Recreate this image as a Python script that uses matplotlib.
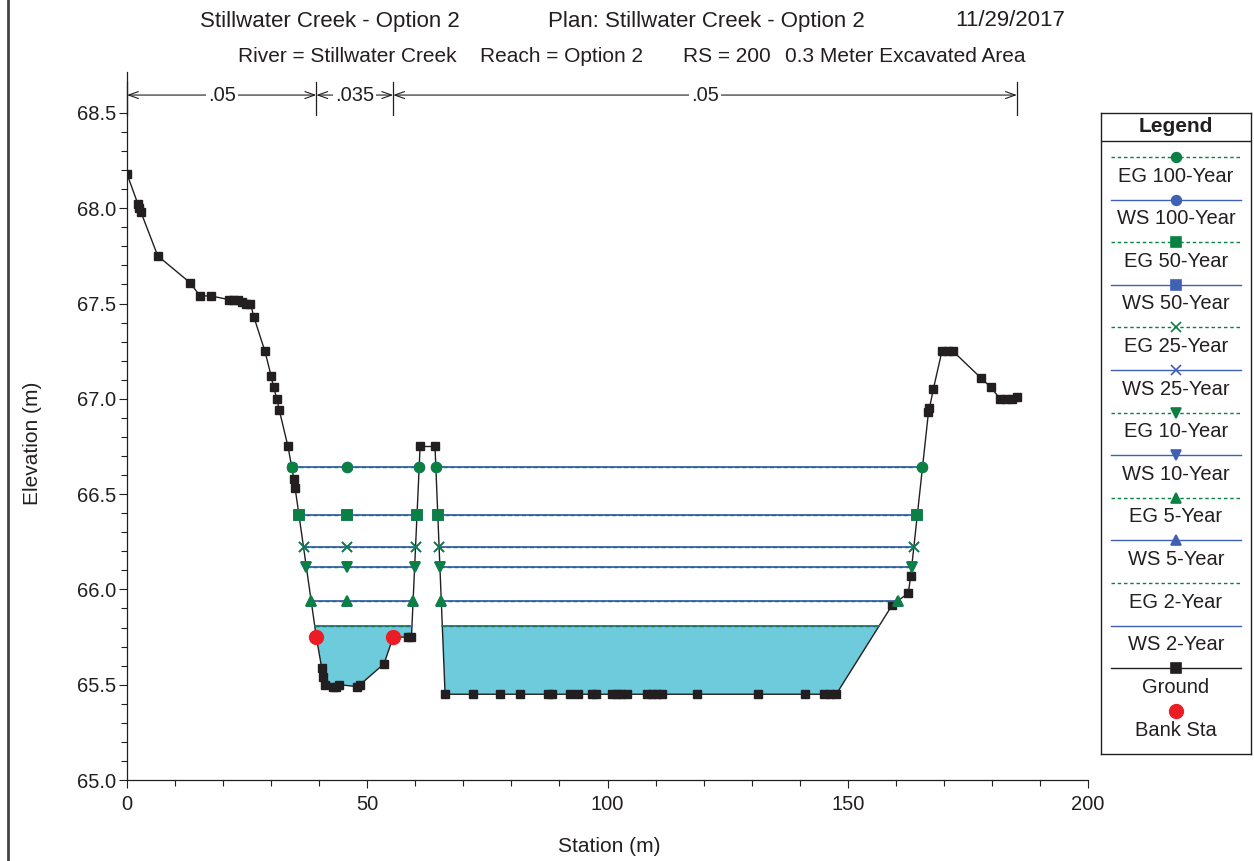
import numpy as np
import matplotlib
matplotlib.use("Agg")
import matplotlib.pyplot as plt
from matplotlib.lines import Line2D
from matplotlib.ticker import MultipleLocator, FixedLocator, FormatStrFormatter

plt.rcParams['font.family'] = ['Liberation Sans', 'DejaVu Sans']

# ---- cross-section data -------------------------------------------------
ground_station = [0.0, 2.3, 2.6, 2.9, 6.4, 13.1, 15.2, 17.5, 21.3, 22.1, 23.0,
                  23.9, 24.7, 25.7, 26.4, 28.7, 30.0, 30.5, 31.2, 31.7, 33.5,
                  34.3, 34.7, 35.0, 39.4, 40.5, 40.8, 41.2, 42.9, 43.4, 44.2,
                  47.9, 48.5, 53.5, 55.4, 58.5, 59.2, 61.0, 64.1, 66.2, 72.1,
                  77.6, 81.8, 87.7, 88.4, 92.2, 93.9, 96.7, 97.6, 100.9, 101.9,
                  102.8, 104.1, 108.2, 109.3, 110.3, 111.3, 118.6, 131.4, 141.0,
                  145.1, 146.3, 147.6, 159.3, 162.6, 163.1, 166.8, 167.0, 167.8,
                  169.6, 170.9, 171.9, 177.7, 179.8, 181.7, 182.9, 184.2, 185.2]
ground_elev = [68.18, 68.02, 68.00, 67.98, 67.75, 67.61, 67.54, 67.54, 67.52,
               67.52, 67.52, 67.51, 67.50, 67.50, 67.43, 67.25, 67.12, 67.06,
               67.00, 66.94, 66.75, 66.64, 66.58, 66.53, 65.75, 65.59, 65.54,
               65.50, 65.49, 65.49, 65.50, 65.49, 65.50, 65.61, 65.75, 65.75,
               65.75, 66.75, 66.75, 65.45, 65.45, 65.45, 65.45, 65.45, 65.45,
               65.45, 65.45, 65.45, 65.45, 65.45, 65.45, 65.45, 65.45, 65.45,
               65.45, 65.45, 65.45, 65.45, 65.45, 65.45, 65.45, 65.45, 65.45,
               65.92, 65.98, 66.07, 66.93, 66.95, 67.05, 67.25, 67.25, 67.25,
               67.11, 67.06, 67.00, 67.00, 67.00, 67.01]
bank_station = [39.4, 55.4]

profiles = ['100-Year', '50-Year', '25-Year', '10-Year', '5-Year', '2-Year']
ws_elev = [66.64, 66.39, 66.22, 66.12, 65.94, 65.81]
eg_elev = [66.64, 66.39, 66.22, 66.12, 65.94, 65.81]
profile_markers = ['o', 's', 'x', 'v', '^', None]
symbol_station = 45.7

n_values = ['.05', '.035', '.05']

title_parts = ['Stillwater Creek - Option 2', 'Plan: Stillwater Creek - Option 2',
               '11/29/2017']
subtitle_parts = ['River = Stillwater Creek', 'Reach = Option 2', 'RS = 200',
                  '0.3 Meter Excavated Area']

# ---- styling -------------------------------------------------------------
INK = '#231f20'
EG_COLOR = '#0b8043'
WS_COLOR = '#4060b4'
WATER = '#6dcbdc'
BANK_RED = '#ec1c24'

W, H = 1254, 861
fig = plt.figure(figsize=(W / 100, H / 100), dpi=100)


def fx(x):
    return x / W


def fy(y):
    return 1 - y / H


ax = fig.add_axes([fx(127), fy(780), (1088 - 127) / W, (780 - 72) / H])
ax.set_xlim(0, 200)
ax.set_ylim(65.0, 68.715)

st = np.asarray(ground_station)
el = np.asarray(ground_elev)


def wet_segments(level):
    """Stations where the ground profile crosses a water level, paired."""
    xs = []
    for i in range(len(st) - 1):
        a, b = el[i] - level, el[i + 1] - level
        if (a >= 0) != (b >= 0):
            xs.append(st[i] + (st[i + 1] - st[i]) * a / (a - b))
    return list(zip(xs[0::2], xs[1::2]))


# water fill for the lowest profile
ax.fill_between(st, el, ws_elev[-1], where=el < ws_elev[-1], interpolate=True,
                color=WATER, lw=0, zorder=1)

# ground
ax.plot(st, el, color=INK, lw=1.0, marker='s', ms=6.3, mfc=INK, mec=INK, zorder=3)

# water surface and energy grade lines
for ws, eg, mk in zip(ws_elev, eg_elev, profile_markers):
    for x0, x1 in wet_segments(ws):
        ax.plot([x0, x1], [ws, ws], color=WS_COLOR, lw=1.3, zorder=4)
        if mk:
            pts = [x0, x1] + ([symbol_station] if x0 < symbol_station < x1 else [])
            ax.plot(pts, [ws] * len(pts), ls='none', marker=mk, ms=7,
                    color=WS_COLOR, mew=1.2, zorder=5)
    for x0, x1 in wet_segments(eg):
        ax.plot([x0, x1], [eg, eg], color=EG_COLOR, lw=1.0, ls=(0, (3, 2)), zorder=6)
        if mk:
            pts = [x0, x1] + ([symbol_station] if x0 < symbol_station < x1 else [])
            ax.plot(pts, [eg] * len(pts), ls='none', marker=mk, ms=7,
                    color=EG_COLOR, mew=1.2, zorder=7)

# bank stations
bank_elev = np.interp(bank_station, st, el)
ax.plot(bank_station, bank_elev, ls='none', marker='o', ms=10, color=BANK_RED,
        zorder=8)

# Manning's n brackets along the top
edges = [st[0]] + bank_station + [st[-1]]
y_arrow, y_top, y_bot = 68.594, 68.66, 68.49
for x in edges:
    ax.plot([x, x], [y_bot, y_top], color=INK, lw=0.9, clip_on=False, zorder=9)
for (x0, x1), n in zip(zip(edges[:-1], edges[1:]), n_values):
    ax.annotate('', xy=(x1, y_arrow), xytext=(x0, y_arrow),
                arrowprops=dict(arrowstyle='<->,head_length=0.7,head_width=0.25',
                                color=INK, lw=0.8, shrinkA=0, shrinkB=0),
                annotation_clip=False, zorder=9)
    ax.text((x0 + x1) / 2, y_arrow, n, ha='center', va='center', fontsize=14.5,
            color=INK, zorder=10,
            bbox=dict(facecolor='white', edgecolor='none', pad=1.5))

# axes cosmetics
for side in ('top', 'right'):
    ax.spines[side].set_visible(False)
for side in ('left', 'bottom'):
    ax.spines[side].set_color(INK)
    ax.spines[side].set_linewidth(0.9)
ax.xaxis.set_major_locator(MultipleLocator(50))
ax.xaxis.set_minor_locator(MultipleLocator(10))
ax.yaxis.set_major_locator(FixedLocator(np.arange(65.0, 68.51, 0.5)))
ax.yaxis.set_minor_locator(FixedLocator(np.arange(65.0, 68.51, 0.1)))
ax.yaxis.set_major_formatter(FormatStrFormatter('%.1f'))
ax.tick_params(which='major', direction='out', length=6, width=0.8, color=INK,
               labelsize=14.5, labelcolor=INK, pad=2)
ax.tick_params(axis='x', which='major', pad=5)
ax.tick_params(which='minor', direction='out', length=4, width=0.8, color=INK)

fig.text(fx(609), fy(847), 'Station (m)', ha='center', va='center',
         fontsize=15, color=INK)
fig.text(fx(32), fy(443), 'Elevation (m)', ha='center', va='center',
         rotation=90, fontsize=15, color=INK)

# titles
fig.text(fx(200), fy(21), title_parts[0], ha='left', va='center', fontsize=16, color=INK)
fig.text(fx(548), fy(21), title_parts[1], ha='left', va='center', fontsize=16, color=INK)
fig.text(fx(1065), fy(21), title_parts[2], ha='right', va='center', fontsize=16, color=INK)
for xl, s in zip([238, 480, 683, 785], subtitle_parts):
    fig.text(fx(xl), fy(56), s, ha='left', va='center', fontsize=15, color=INK)

# ---- legend panel --------------------------------------------------------
lax = fig.add_axes([fx(1101), fy(754), 150 / W, (754 - 113) / H])
lax.set_xlim(1101, 1251)
lax.set_ylim(754, 113)
lax.set_xticks([])
lax.set_yticks([])
for sp in lax.spines.values():
    sp.set_color(INK)
    sp.set_linewidth(1.0)
lax.text(1176, 127, 'Legend', ha='center', va='center', fontsize=15,
         fontweight='bold', color=INK)
lax.plot([1101, 1251], [141, 141], color=INK, lw=1.0)

entries = []
for name, mk in zip(profiles, profile_markers):
    entries.append(('EG ' + name, EG_COLOR, (0, (2.5, 2)), mk))
    entries.append(('WS ' + name, WS_COLOR, '-', mk))
entries.append(('Ground', INK, '-', 's'))

y_line = 157.0
step = 42.6
for label, color, ls, mk in entries:
    lax.plot([1111, 1241], [y_line, y_line], color=color, lw=1.0, ls=ls)
    if mk:
        lax.plot([1176], [y_line], marker=mk, ms=7, color=color, mew=1.2)
    lax.text(1176, y_line + 19, label, ha='center', va='center', fontsize=14.5,
             color=INK)
    y_line += step
lax.plot([1176], [711], marker='o', ms=10, color=BANK_RED)
lax.text(1176, 731, 'Bank Sta', ha='center', va='center', fontsize=14.5, color=INK)

# window frame on the left
fig.add_artist(Line2D([fx(8), fx(8)], [0, 1], color='#444444', lw=2))

fig.savefig('out.png', dpi=100)
